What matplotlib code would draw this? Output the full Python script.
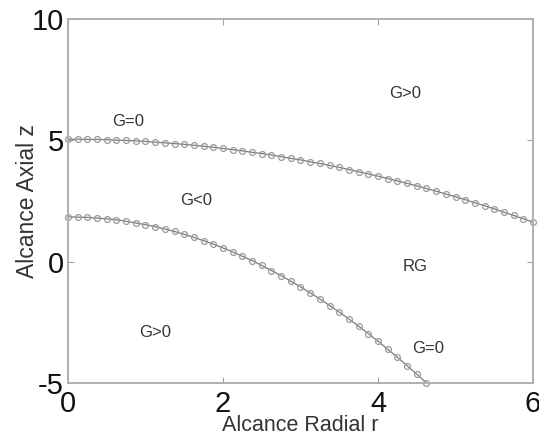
import matplotlib
matplotlib.use("Agg")
import matplotlib.pyplot as plt

# radial positions of the markers (step 0.125)
r_upper = [i * 0.125 for i in range(49)]
z_upper = [5.05, 5.05, 5.04, 5.04, 5.03, 5.01, 5.00, 4.98, 4.96, 4.93,
           4.90, 4.87, 4.84, 4.80, 4.76, 4.72, 4.67, 4.62, 4.57, 4.51,
           4.46, 4.40, 4.33, 4.26, 4.20, 4.12, 4.05, 3.97, 3.89, 3.80,
           3.71, 3.62, 3.53, 3.43, 3.33, 3.23, 3.13, 3.02, 2.91, 2.79,
           2.68, 2.56, 2.43, 2.31, 2.18, 2.04, 1.91, 1.77, 1.63]

r_lower = [i * 0.125 for i in range(38)]
z_lower = [1.85, 1.84, 1.83, 1.80, 1.77, 1.73, 1.67, 1.60, 1.53, 1.45,
           1.35, 1.25, 1.13, 1.01, 0.87, 0.73, 0.57, 0.41, 0.23, 0.05,
           -0.15, -0.36, -0.57, -0.80, -1.03, -1.28, -1.53, -1.80, -2.07, -2.36,
           -2.65, -2.96, -3.27, -3.60, -3.93, -4.28, -4.63, -4.99]

region_labels = ["G=0", "G>0", "G<0", "RG", "G>0", "G=0"]
label_r = [0.78, 4.35, 1.66, 4.48, 1.12, 4.65]
label_z = [5.76, 6.95, 2.54, -0.18, -2.90, -3.56]

plt.rcParams['font.family'] = ['Liberation Sans', 'DejaVu Sans']
plt.rcParams['axes.unicode_minus'] = False

fig = plt.figure(figsize=(5.39, 4.43), dpi=100)
ax = fig.add_axes([0.126, 0.135, 0.863, 0.822])

curve_col = '#7a7a7a'
for r, z in [(r_upper, z_upper), (r_lower, z_lower)]:
    ax.plot(r, z, '-o', color=curve_col, lw=0.9, ms=4.2,
            mfc='none', mec='#9a9a9a', mew=0.9, clip_on=False)

for txt, x, y in zip(region_labels, label_r, label_z):
    ax.text(x, y, txt, fontsize=12, color='#333333', ha='center', va='center')

ax.set_xlim(0, 6)
ax.set_ylim(-5, 10)
ax.set_xticks([0, 2, 4, 6])
ax.set_yticks([-5, 0, 5, 10])
ax.tick_params(direction='in', length=4, width=0.8, color='#a0a0a0',
               labelsize=21, top=True, right=True, labelcolor='#111111')
ax.tick_params(axis='x', pad=5)
ax.tick_params(axis='y', pad=3)
for s in ax.spines.values():
    s.set_color('#b0b0b0')
    s.set_linewidth(1.4)

ax.set_xlabel('Alcance Radial r', fontsize=15.5, color='#333333', labelpad=-2)
ax.set_ylabel('Alcance Axial z', fontsize=16.5, color='#333333')
ax.yaxis.set_label_coords(-0.062, 0.5)

fig.savefig('out.png', dpi=100)
